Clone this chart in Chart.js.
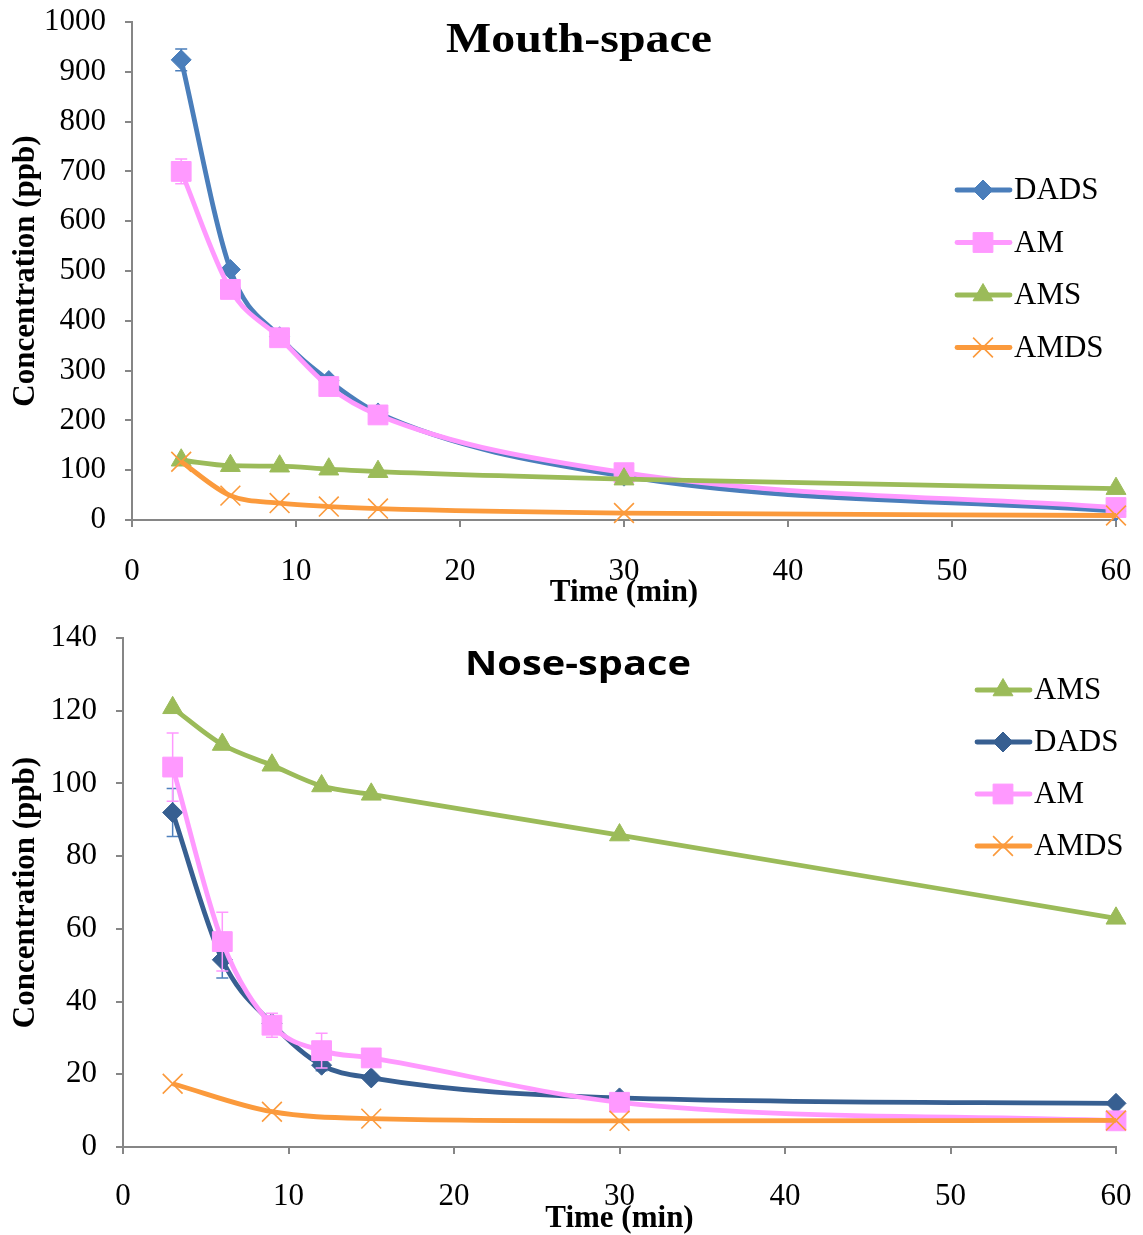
<!DOCTYPE html>
<html>
<head>
<meta charset="utf-8">
<script src="https://cdn.jsdelivr.net/npm/chart.js@4.4.0/dist/chart.umd.min.js"></script>
<style>
  body { margin: 0; background: #fff; }
  .box { position: absolute; left: 0; width: 1143px; }
  #mouthBox { top: 0; height: 615px; }
  #noseBox { top: 615px; height: 620px; }
</style>
</head>
<body>
<div class="box" id="mouthBox"><canvas id="mouth"></canvas></div>
<div class="box" id="noseBox"><canvas id="nose"></canvas></div>
<script>
// sampling times (min)
const times = [3, 6, 9, 12, 15, 30, 60];

// mouth-space concentrations (ppb)
const mouthDADS = [924, 503, 368, 280, 215, 88, 18];
const mouthAM = [700, 463, 366, 268, 211, 95, 25];
const mouthAMS = [120, 109, 108, 102, 97, 82, 63];
const mouthAMDS = [117, 49, 34, 27, 23, 14, 9];
const mouthDADSErr = [22, 0, 0, 0, 0, 0, 0];
const mouthAMErr = [25, 0, 0, 0, 0, 0, 0];

// nose-space concentrations (ppb)
const noseDADS = [92, 51.5, 34, 22.5, 19, 13.5, 12];
const noseAM = [104.5, 56.5, 33.5, 26.5, 24.5, 12.3, 7.2];
const noseAMS = [120.8, 110.7, 105, 99.3, 97, 85.8, 62.9];
const noseAMDSTimes = [3, 9, 15, 30, 60];
const noseAMDS = [17.4, 9.7, 7.8, 7.2, 7.3];
const noseDADSErr = [6.6, 5, 0, 1.5, 0, 0, 0];
const noseAMErr = [9.4, 8.1, 3.3, 4.8, 1, 0, 0];

const SERIF = '"Liberation Serif", "Times New Roman", serif';
Chart.defaults.font.family = SERIF;
Chart.defaults.color = '#000';

const PINK = '#ff99ff';
const GREEN = '#9bbb59';
const ORANGE = '#fb9a3c';

function series(label, xs, ys, errs, color, marker, radius, order) {
  return {
    label: label,
    data: xs.map((x, i) => ({ x: x, y: ys[i] })),
    errors: errs,
    borderColor: color,
    backgroundColor: color,
    pointBackgroundColor: color,
    pointBorderColor: color,
    pointStyle: marker,
    pointRadius: radius,
    pointBorderWidth: marker === 'crossRot' ? 1.6 : 1,
    borderWidth: 4.8,
    cubicInterpolationMode: 'monotone',
    clip: false,
    order: order
  };
}

// vertical error bars, drawn just under each series
const errorBars = {
  id: 'errorBars',
  beforeDatasetDraw(chart, args) {
    const ds = chart.data.datasets[args.index];
    if (!ds.errors) return;
    const ctx = chart.ctx, x = chart.scales.x, y = chart.scales.y;
    ctx.save();
    ctx.strokeStyle = ds.errorColor || ds.borderColor;
    ctx.lineWidth = 1.5;
    ds.data.forEach((p, i) => {
      const e = ds.errors[i];
      if (!e) return;
      const px = x.getPixelForValue(p.x);
      const top = y.getPixelForValue(p.y + e);
      const bot = y.getPixelForValue(p.y - e);
      ctx.beginPath();
      ctx.moveTo(px, top); ctx.lineTo(px, bot);
      ctx.moveTo(px - 6, top); ctx.lineTo(px + 6, top);
      ctx.moveTo(px - 6, bot); ctx.lineTo(px + 6, bot);
      ctx.stroke();
    });
    ctx.restore();
  }
};

// legend inside the plot: line sample with marker, then label
const sideLegend = {
  id: 'sideLegend',
  afterDraw(chart, args, opts) {
    const ctx = chart.ctx;
    ctx.save();
    ctx.font = '31px ' + SERIF;
    ctx.textBaseline = 'middle';
    opts.order.forEach((idx, k) => {
      const ds = chart.data.datasets[idx];
      const y = opts.y + k * opts.gap;
      ctx.strokeStyle = ds.borderColor;
      ctx.lineWidth = ds.borderWidth;
      ctx.lineCap = 'round';
      ctx.beginPath();
      ctx.moveTo(opts.x, y);
      ctx.lineTo(opts.x + 53, y);
      ctx.stroke();
      ctx.lineCap = 'butt';
      ctx.fillStyle = ds.pointBackgroundColor;
      ctx.strokeStyle = ds.pointBorderColor;
      ctx.lineWidth = ds.pointBorderWidth;
      Chart.helpers.drawPoint(ctx, {
        pointStyle: ds.pointStyle, radius: ds.pointRadius,
        borderWidth: ds.pointBorderWidth, rotation: 0
      }, opts.x + 26, y);
      ctx.fillStyle = '#000';
      ctx.fillText(ds.label, opts.x + 57, y + 1);
    });
    ctx.restore();
  }
};

// panel heading placed inside the plot area
const panelTitle = {
  id: 'panelTitle',
  afterDraw(chart, args, opts) {
    const ctx = chart.ctx;
    ctx.save();
    ctx.font = opts.font;
    ctx.fillStyle = '#000';
    ctx.textAlign = 'center';
    ctx.textBaseline = 'middle';
    const w = ctx.measureText(opts.text).width;
    ctx.translate(opts.x, opts.y);
    ctx.scale(opts.width / w, 1);
    ctx.fillText(opts.text, 0, 0);
    ctx.restore();
  }
};

// fixed axis boxes so the plot area sits exactly on the layout padding
function pin(size, horizontal) {
  return s => {
    if (horizontal) s.height = size; else s.width = size;
    s.paddingTop = 0; s.paddingBottom = 0; s.paddingLeft = 0; s.paddingRight = 0;
  };
}

function axes(yMax, yStep, yWidth, xHeight, xPad, titleBottom) {
  const AXIS = '#868686';
  return {
    x: {
      type: 'linear', min: 0, max: 60,
      ticks: { stepSize: 10, font: { size: 31 }, padding: xPad, maxRotation: 0 },
      grid: { drawOnChartArea: false, tickLength: 7, color: AXIS, lineWidth: 2 },
      border: { color: AXIS, width: 2 },
      title: { display: true, text: 'Time (min)', font: { size: 31, weight: 'bold' },
               padding: { top: 0, bottom: titleBottom } },
      afterFit: pin(xHeight, true)
    },
    y: {
      min: 0, max: yMax,
      ticks: { stepSize: yStep, font: { size: 31 }, padding: 19, callback: v => String(v) },
      grid: { drawOnChartArea: false, tickLength: 7, color: AXIS, lineWidth: 2 },
      border: { color: AXIS, width: 2 },
      title: { display: true, text: 'Concentration (ppb)', font: { size: 31, weight: 'bold' },
               padding: { top: 7, bottom: 0 } },
      afterFit: pin(yWidth, false)
    }
  };
}

new Chart(document.getElementById('mouth'), {
  type: 'line',
  data: {
    datasets: [
      series('DADS', times, mouthDADS, mouthDADSErr, '#4a7ebb', 'rectRot', 10, 3),
      series('AM', times, mouthAM, mouthAMErr, PINK, 'rect', 14, 2),
      series('AMS', times, mouthAMS, null, GREEN, 'triangle', 11.5, 1),
      series('AMDS', times, mouthAMDS, null, ORANGE, 'crossRot', 14, 0)
    ]
  },
  options: {
    animation: false,
    responsive: true,
    maintainAspectRatio: false,
    layout: { padding: { top: 22, right: 27, left: 0, bottom: 0 } },
    scales: axes(1000, 100, 132, 95, 26, 3),
    plugins: {
      legend: { display: false },
      tooltip: { enabled: false },
      sideLegend: { x: 957, y: 190, gap: 52.5, order: [0, 1, 2, 3] },
      panelTitle: { text: 'Mouth-space', font: 'bold 43px ' + SERIF, x: 579, y: 41, width: 266 }
    }
  },
  plugins: [errorBars, sideLegend, panelTitle]
});

const noseDADSSet = series('DADS', times, noseDADS, noseDADSErr, '#375f91', 'rectRot', 10, 3);
noseDADSSet.errorColor = '#4f81bd';

new Chart(document.getElementById('nose'), {
  type: 'line',
  data: {
    datasets: [
      noseDADSSet,
      series('AM', times, noseAM, noseAMErr, PINK, 'rect', 14, 2),
      series('AMS', times, noseAMS, null, GREEN, 'triangle', 11.5, 1),
      series('AMDS', noseAMDSTimes, noseAMDS, null, ORANGE, 'crossRot', 14, 0)
    ]
  },
  options: {
    animation: false,
    responsive: true,
    maintainAspectRatio: false,
    layout: { padding: { top: 23, right: 27, left: 0, bottom: 0 } },
    scales: axes(140, 20, 123, 88, 24, -3),
    plugins: {
      legend: { display: false },
      tooltip: { enabled: false },
      sideLegend: { x: 977, y: 75, gap: 52, order: [2, 0, 1, 3] },
      panelTitle: { text: 'Nose-space', font: 'bold 34px "Open Sans", Lato, sans-serif', x: 578, y: 50, width: 226 }
    }
  },
  plugins: [errorBars, sideLegend, panelTitle]
});
</script>
</body>
</html>
